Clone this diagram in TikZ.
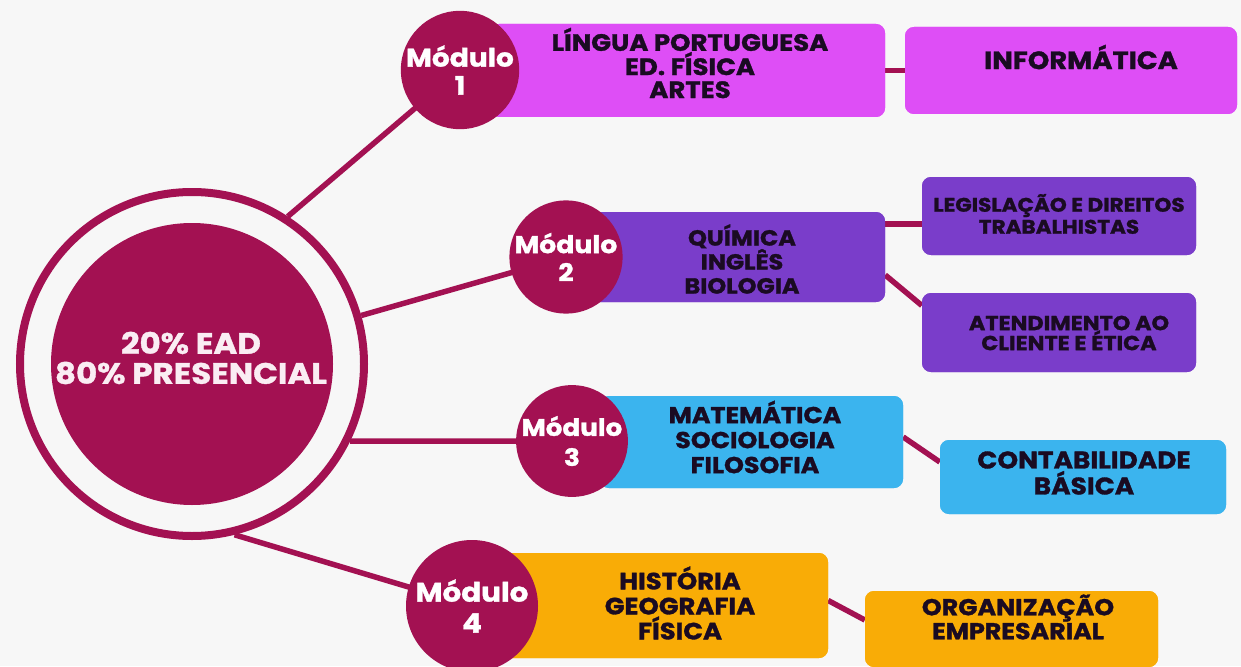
\documentclass[tikz,border=0pt]{standalone}
\usepackage{fontspec}
\setmainfont{Poppins}[BoldFont={* Bold},BoldFeatures={FakeBold=1.3,FakeStretch=1.1}]
\definecolor{bg}{HTML}{F7F7F7}
\definecolor{mag}{HTML}{A31152}
\definecolor{pinkbox}{HTML}{DE4EF6}
\definecolor{purplebox}{HTML}{7A3DCA}
\definecolor{bluebox}{HTML}{3BB4EE}
\definecolor{orangebox}{HTML}{F9AC06}
\definecolor{darktxt}{HTML}{1A0B22}
\definecolor{lighttxt}{HTML}{FAEDF3}
\newcommand{\fs}[2]{\bfseries\fontsize{#1}{#2}\selectfont}
\begin{document}
\begin{tikzpicture}[x=1pt,y=-1pt,
  conn/.style={draw=mag,line width=5.5pt},
  modcirc/.style={circle,fill=mag,inner sep=0pt,text=white,align=center},
  boxsty/.style={rounded corners=9pt,inner sep=0pt},
  boxtxt/.style={text=darktxt,align=center,inner sep=0pt}
]
\fill[bg] (0,0) rectangle (1241,666);
\useasboundingbox (0,0) rectangle (1241,666);

% center
\node[circle,draw=mag,line width=8pt,minimum size=344pt,inner sep=0pt] (ring) at (192,364) {};
\coordinate (c1) at (460,70);
\coordinate (c2) at (566,257);
\coordinate (c3) at (572,441);
\coordinate (c4) at (472,606);

% lines ring to modules
\draw[conn] (ring.57) -- (c1);
\draw[conn] (ring.16) -- (c2);
\draw[conn] (ring.-26.6) -- (c3);
\draw[conn] (ring.-76) -- (c4);

\node[circle,fill=mag,minimum size=282pt,inner sep=0pt] (core) at (192,364) {};
\node[text=lighttxt,font=\fs{29.5}{30},align=center,inner sep=0pt] (coretxt) at (191,358) {20\% EAD\\80\% PRESENCIAL};

% boxes
\tikzset{
  b1s/.style={boxsty,fill=pinkbox,minimum width=395pt,minimum height=93pt},
  b1rs/.style={boxsty,fill=pinkbox,minimum width=332pt,minimum height=87pt},
  b2s/.style={boxsty,fill=purplebox,minimum width=295pt,minimum height=90pt},
  b2as/.style={boxsty,fill=purplebox,minimum width=274pt,minimum height=78pt},
  b2bs/.style={boxsty,fill=purplebox,minimum width=274pt,minimum height=79pt},
  b3s/.style={boxsty,fill=bluebox,minimum width=303pt,minimum height=92pt},
  b3rs/.style={boxsty,fill=bluebox,minimum width=286pt,minimum height=74pt},
  b4s/.style={boxsty,fill=orangebox,minimum width=328pt,minimum height=105pt},
  b4rs/.style={boxsty,fill=orangebox,minimum width=293pt,minimum height=76pt}
}
\path
  (687.5,70.5) node[b1s] (b1) {}
  (1071,70.5) node[b1rs] (b1r) {}
  (737.5,257) node[b2s] (b2) {}
  (1059,216) node[b2as] (b2a) {}
  (1059,332.5) node[b2bs] (b2b) {}
  (751.5,442) node[b3s] (b3) {}
  (1083,477) node[b3rs] (b3r) {}
  (664,605.5) node[b4s] (b4) {}
  (1011.5,629) node[b4rs] (b4r) {};

% box-to-box connectors
\draw[conn] (b1.east) -- (b1r.west);
\draw[conn] ([yshift=33pt]b2.east) -- ([yshift=-8pt]b2a.west);
\draw[conn] ([yshift=-18pt]b2.east) -- ([yshift=27pt]b2b.west);
\draw[conn] ([yshift=5pt]b3.east) -- ([yshift=15pt]b3r.west);
\draw[conn] ([yshift=5pt]b4.east) -- ([yshift=9pt]b4r.west);
% redraw boxes over connector ends
\path
  (b1) node[b1s] {} (b1r) node[b1rs] {}
  (b2) node[b2s] {} (b2a) node[b2as] {} (b2b) node[b2bs] {}
  (b3) node[b3s] {} (b3r) node[b3rs] {}
  (b4) node[b4s] {} (b4r) node[b4rs] {};

% module circles
\node[modcirc,minimum size=114pt,font=\fs{25.5}{28}] (m1) at (c1) {Módulo\\1};
\node[modcirc,minimum size=112pt,font=\fs{24.3}{28}] (m2) at (c2) {Módulo\\2};
\node[modcirc,minimum size=110pt,font=\fs{23.8}{30}] (m3) at (c3) {Módulo\\3};
\node[modcirc,minimum size=132pt,font=\fs{26.7}{31}] (m4) at (c4) {Módulo\\4};

% box texts
\node[boxtxt,font=\fs{23.6}{23}] (t1) at (690,63) {LÍNGUA PORTUGUESA\\ED. FÍSICA\\ARTES};
\node[boxtxt,font=\fs{24.9}{25}] (t1r) at (1081,57) {INFORMÁTICA};
\node[boxtxt,font=\fs{21.8}{24}] (t2) at (742,259) {QUÍMICA\\INGLÊS\\BIOLOGIA};
\node[boxtxt,font=\fs{19.6}{22}] (t2a) at (1059,214) {LEGISLAÇÃO E DIREITOS\\TRABALHISTAS};
\node[boxtxt,font=\fs{20.3}{20}] (t2b) at (1069,333) {ATENDIMENTO AO\\CLIENTE E ÉTICA};
\node[boxtxt,font=\fs{23}{25}] (t3) at (755,437) {MATEMÁTICA\\SOCIOLOGIA\\FILOSOFIA};
\node[boxtxt,font=\fs{24}{26}] (t3r) at (1084,473) {CONTABILIDADE\\BÁSICA};
\node[boxtxt,font=\fs{23.5}{25}] (t4) at (680,603) {HISTÓRIA\\GEOGRAFIA\\FÍSICA};
\node[boxtxt,font=\fs{23}{24}] (t4r) at (1018,617) {ORGANIZAÇÃO\\EMPRESARIAL};
\end{tikzpicture}
\end{document}
